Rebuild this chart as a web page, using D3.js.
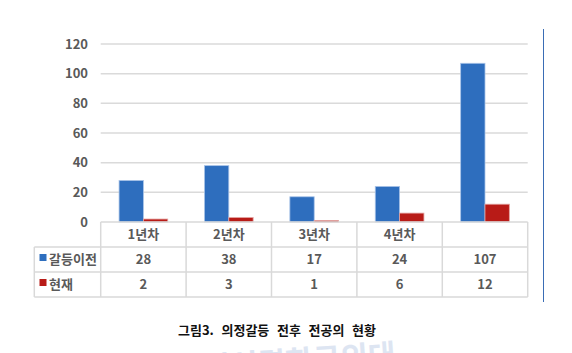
<!DOCTYPE html>
<html lang="ko">
<head>
<meta charset="utf-8">
<script src="https://d3js.org/d3.v7.min.js"></script>
<style>
  body { margin: 0; background: #fff; }
  svg text { font-family: "Noto Sans CJK KR", "Noto Sans", sans-serif; }
</style>
</head>
<body>
<svg id="chart" width="572" height="353"></svg>
<script>
var categories = ["1년차", "2년차", "3년차", "4년차", ""]
var seriesNames = ["갈등이전", "현재"]
var before = [28, 38, 17, 24, 107]
var now = [2, 3, 1, 6, 12]
var yTicks = [0, 20, 40, 60, 80, 100, 120]
var title = "그림3. 의정갈등 전후 전공의 현황"

var colors = ["#2e6ebe", "#b81b17"]
var values = [before, now]

var svg = d3.select("#chart")
var plotLeft = 100.7, plotRight = 527.7, plotTop = 44, base = 222
var rowH = 25

var x = d3.scaleBand().domain(categories.map((d, i) => i)).range([plotLeft, plotRight])
var bw = x.bandwidth()
var x1 = d3.scaleBand().domain(seriesNames).range([bw * 0.215, bw * 0.785])
var y = d3.scaleLinear().domain([0, 120]).range([base, plotTop])

// gridlines
svg.append("g").selectAll("line").data(yTicks.slice(1)).enter().append("line")
  .attr("x1", plotLeft).attr("x2", plotRight)
  .attr("y1", d => y(d)).attr("y2", d => y(d))
  .attr("stroke", "#dadada").attr("stroke-width", 1.5)

// y labels
svg.append("g").selectAll("text").data(yTicks).enter().append("text")
  .attr("x", 88).attr("y", d => y(d)).attr("dy", "0.35em")
  .attr("text-anchor", "end").attr("font-size", 13).attr("font-weight", "bold")
  .attr("fill", "#595959").text(d => d)

// bars
seriesNames.forEach((s, si) => {
  svg.append("g").selectAll("rect").data(values[si]).enter().append("rect")
    .attr("x", (d, i) => x(i) + x1(s))
    .attr("y", d => y(d))
    .attr("width", x1.bandwidth())
    .attr("height", d => base - y(d))
    .attr("fill", colors[si])
    .attr("stroke", si == 0 ? "#a9c4e8" : "#e3a3a1").attr("stroke-width", 0.8)
})

// data table
var grid = svg.append("g").attr("stroke", "#d9d9d9").attr("stroke-width", 1.5).attr("fill", "none")
grid.append("line").attr("x1", plotLeft).attr("x2", plotRight).attr("y1", base).attr("y2", base)
;[1, 2, 3].forEach(r => {
  grid.append("line").attr("x1", 34.3).attr("x2", plotRight)
    .attr("y1", base + r * rowH).attr("y2", base + r * rowH)
})
grid.append("line").attr("x1", 34.3).attr("x2", 34.3).attr("y1", base + rowH).attr("y2", base + 3 * rowH)
categories.forEach((c, i) => {
  grid.append("line").attr("x1", x(i)).attr("x2", x(i)).attr("y1", base).attr("y2", base + 3 * rowH)
})
grid.append("line").attr("x1", plotRight).attr("x2", plotRight).attr("y1", base).attr("y2", base + 3 * rowH)

svg.append("g").selectAll("text").data(categories).enter().append("text")
  .attr("x", (d, i) => x(i) + bw / 2).attr("y", base + rowH / 2).attr("dy", "0.35em")
  .attr("text-anchor", "middle").attr("font-size", 13).attr("font-weight", "bold")
  .attr("fill", "#595959").text(d => d)

values.forEach((vals, si) => {
  var ry = base + (si + 1) * rowH + rowH / 2
  svg.append("g").selectAll("text").data(vals).enter().append("text")
    .attr("x", (d, i) => x(i) + bw / 2).attr("y", ry).attr("dy", "0.35em")
    .attr("text-anchor", "middle").attr("font-size", 13).attr("font-weight", "bold")
    .attr("fill", "#595959").text(d => d)
  svg.append("rect").attr("x", 39.5).attr("y", ry - 5.5).attr("width", 7).attr("height", 7)
    .attr("fill", colors[si])
  svg.append("text").attr("x", 49).attr("y", ry).attr("dy", "0.35em")
    .attr("font-size", 13).attr("font-weight", "bold").attr("fill", "#595959")
    .text(seriesNames[si])
})

// frame line on the right
svg.append("line").attr("x1", 543.5).attr("x2", 543.5).attr("y1", 29).attr("y2", 302)
  .attr("stroke", "#3a6db5").attr("stroke-width", 1)

// caption
svg.append("text").attr("x", 277).attr("y", 330.5).attr("dy", "0.35em")
  .attr("text-anchor", "middle").attr("font-size", 13).attr("font-weight", "bold")
  .attr("fill", "#111").attr("word-spacing", 4).text(title)

// faint watermark
svg.append("text").attr("x", 300).attr("y", 372).attr("text-anchor", "middle")
  .attr("font-size", 30).attr("font-weight", "bold").attr("fill", "#dde5f2")
  .attr("transform", "rotate(-4 300 372)").text("신성결한국외대")
</script>
</body>
</html>
